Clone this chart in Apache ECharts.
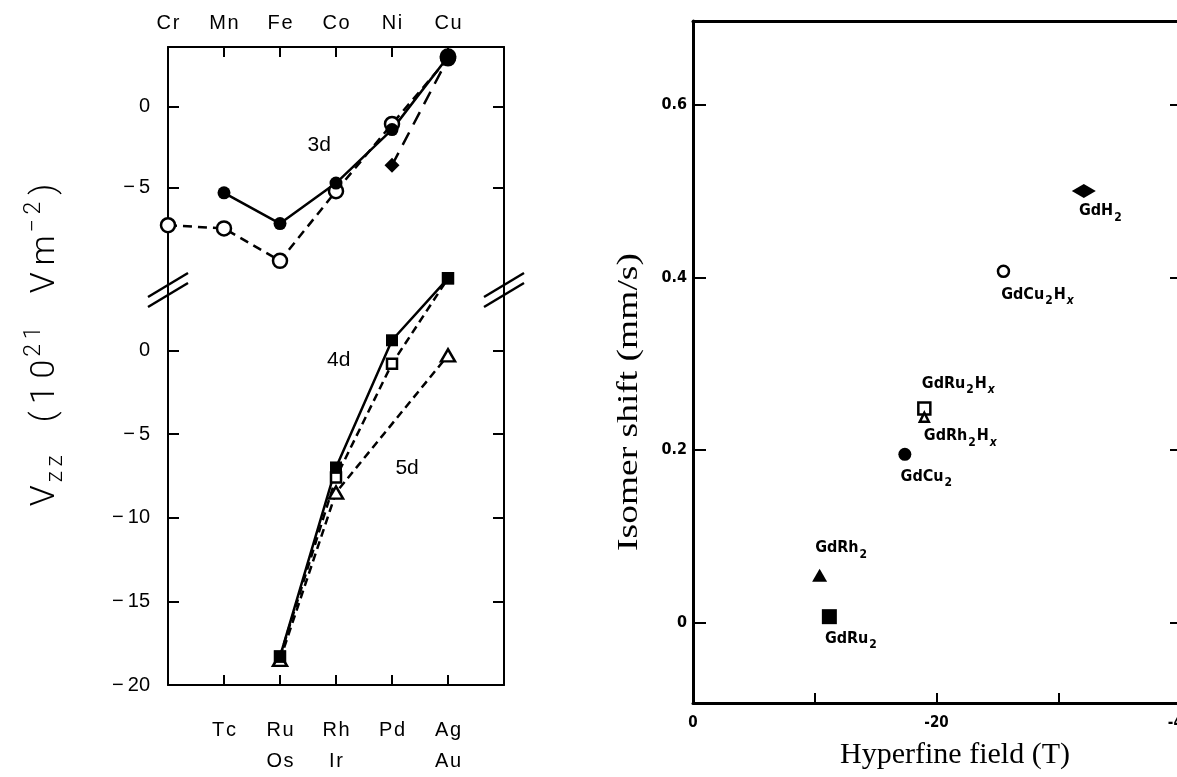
<!DOCTYPE html>
<html>
<head>
<meta charset="utf-8">
<title>Vzz and isomer shift</title>
<script src="https://cdn.jsdelivr.net/npm/echarts@6.0.0/dist/echarts.min.js"></script>
<style>
html,body{margin:0;padding:0;background:#fff;}
#main{width:1177px;height:777px;}
</style>
</head>
<body>
<div id="main"></div>
<script>
// left panel: column 0 = Cr, 5 = Cu (top) / Ag,Au (bottom)
var topNames = ['Cr','Mn','Fe','Co','Ni','Cu'];
var bottomNames = ['', 'Tc', 'Ru\nOs', 'Rh\nIr', 'Pd', 'Ag\nAu'];

// 3d (upper part)
var x3dFull = [1, 2, 3, 4, 5];
var y3dFull = [-5.3, -7.2, -4.7, -1.4, 3.1];
var x3dOpen = [0, 1, 2, 3, 4, 5];
var y3dOpen = [-7.3, -7.5, -9.5, -5.2, -1.05, 3.0];
var x3dDiam = [4, 5];
var y3dDiam = [-3.6, 3.0];

// 4d / 5d (lower part)
var x4dFull = [2, 3, 4, 5];
var y4dFull = [-18.3, -7.0, 0.6, 4.3];
var x4dOpen = [2, 3, 4, 5];
var y4dOpen = [-18.3, -7.6, -0.8, 4.3];
var x5dOpen = [2, 3, 5];
var y5dOpen = [-18.5, -8.5, -0.3];

var upperTicks = [0, -5];
var lowerTicks = [0, -5, -10, -15];
var lowerLabels = [0, -5, -10, -15, -20];

// right panel
var compounds = ['GdH2', 'GdCu2Hx', 'GdRu2Hx', 'GdRh2Hx', 'GdCu2', 'GdRh2', 'GdRu2'];
var hfField  = [-32.1, -25.5, -19.0, -19.0, -17.4, -10.4, -11.2];
var isoShift = [0.50, 0.407, 0.248, 0.238, 0.195, 0.055, 0.007];
var shiftTicks = [0, 0.2, 0.4, 0.6];
var fieldTicks = [0, -10, -20, -30, -40];
var fieldLabels = [0, -20, -40];

// marker look + label offset for each compound
var markStyle = {
  'GdH2':    {symbol: 'diamond',  size: [24, 14], fill: true,  off: [17, 20]},
  'GdCu2Hx': {symbol: 'circle',   size: 11,       fill: false, off: [34, 23]},
  'GdRu2Hx': {symbol: 'rect',     size: 12,       fill: false, off: [34, -25]},
  'GdRh2Hx': {symbol: 'triangle', size: 9,        fill: false, off: [36, 19]},
  'GdCu2':   {symbol: 'circle',   size: 13,       fill: true,  off: [22, 22]},
  'GdRh2':   {symbol: 'triangle', size: [15, 13], fill: true,  off: [22, -27]},
  'GdRu2':   {symbol: 'rect',     size: 15,       fill: true,  off: [22, 22]}
};

var sans = 'Liberation Sans';
var din = 'DejaVu Sans Condensed';

function zip(xs, ys) {
  var out = [];
  for (var i = 0; i < xs.length; i++) out.push([xs[i], ys[i]]);
  return out;
}
function minusLabel(v) {
  return v === 0 ? '0' : '\u2212\u2009' + Math.abs(v);
}
function spaced(s, sep) {
  return s.split('\n').map(function (l) { return l.split('').join(sep || '\u200A'); }).join('\n');
}
function richName(n) {
  return n.replace(/(\d)/g, '{s|$1}').replace(/x$/, '{x|x}');
}

var black = '#000';
var openItem = {color: '#fff', borderColor: black, borderWidth: 2.5, opacity: 1};
var fullItem = {color: black, opacity: 1};

var myChart = echarts.init(document.getElementById('main'));

var upper = zip(x3dFull, y3dFull);
upper[upper.length - 1] = {value: upper[upper.length - 1], symbolSize: 17};
var diam = zip(x3dDiam, y3dDiam);
diam[1] = {value: diam[1], symbol: 'none'};

var scatterSeries = compounds.map(function (name, i) {
  var st = markStyle[name];
  return {
    name: name,
    type: 'scatter',
    xAxisIndex: 2,
    yAxisIndex: 4,
    symbol: st.symbol,
    symbolSize: st.size,
    itemStyle: st.fill ? fullItem : openItem,
    label: {
      show: true,
      position: 'inside',
      offset: st.off,
      formatter: richName(name),
      color: black,
      fontFamily: din,
      fontWeight: 'bold',
      fontSize: 16,
      rich: {
        s: {fontSize: 12, fontFamily: din, fontWeight: 'bold', color: black, padding: [13, 1, 0, 1]},
        x: {fontSize: 12, fontFamily: din, fontStyle: 'italic', fontWeight: 'bold', color: black, padding: [13, 0, 0, 1]}
      }
    },
    data: [[hfField[i], isoShift[i]]]
  };
});

var frameLine = {show: true, onZero: false, lineStyle: {color: black, width: 2}};
var frameLine3 = {show: true, onZero: false, lineStyle: {color: black, width: 3}};

var option = {
  backgroundColor: '#fff',
  animation: false,
  grid: [
    {left: 168, top: 47, width: 336, height: 243, outerBoundsMode: 'none'},
    {left: 168, top: 270, width: 336, height: 415, outerBoundsMode: 'none'},
    {left: 693, top: 21, width: 487, height: 682, outerBoundsMode: 'none'}
  ],
  xAxis: [
    { // top labels Cr..Cu
      type: 'value', gridIndex: 0, position: 'top', min: 0, max: 6,
      axisLine: frameLine,
      axisTick: {inside: true, length: 10, customValues: [1, 2, 3, 4, 5], lineStyle: {width: 2, color: black}},
      axisLabel: {customValues: [0, 1, 2, 3, 4, 5], margin: 14, fontFamily: sans, fontSize: 20, color: black,
        formatter: function (v) { return spaced(topNames[v]); }},
      splitLine: {show: false}
    },
    { // bottom labels Tc..Ag/Au
      type: 'value', gridIndex: 1, position: 'bottom', min: 0, max: 6,
      axisLine: frameLine,
      axisTick: {inside: true, length: 10, customValues: [1, 2, 3, 4, 5], lineStyle: {width: 2, color: black}},
      axisLabel: {customValues: [1, 2, 3, 4, 5], margin: 30, lineHeight: 31, fontFamily: sans, fontSize: 20, color: black,
        formatter: function (v) { return spaced(bottomNames[v]); }},
      splitLine: {show: false}
    },
    { // hyperfine field
      type: 'value', gridIndex: 2, position: 'bottom', min: -40, max: 0, inverse: true,
      axisLine: frameLine3,
      axisTick: {inside: true, length: 10, customValues: fieldTicks, lineStyle: {width: 2, color: black}},
      axisLabel: {customValues: fieldLabels, margin: 13, fontFamily: din, fontWeight: 'bold', fontSize: 15, color: black,
        formatter: function (v) { return v === 0 ? '0' : '-' + Math.abs(v); }},
      splitLine: {show: false}
    },
    {
      type: 'value', gridIndex: 2, position: 'top', min: -40, max: 0, inverse: true,
      axisLine: frameLine3, axisTick: {show: false}, axisLabel: {show: false}, splitLine: {show: false}
    }
  ],
  yAxis: [
    {
      type: 'value', gridIndex: 0, position: 'left', min: -11.3, max: 3.7,
      axisLine: frameLine,
      axisTick: {inside: true, length: 11, customValues: upperTicks, lineStyle: {width: 2, color: black}},
      axisLabel: {customValues: upperTicks, margin: 18, fontFamily: sans, fontSize: 20, color: black, formatter: minusLabel},
      splitLine: {show: false}
    },
    {
      type: 'value', gridIndex: 0, position: 'right', min: -11.3, max: 3.7,
      axisLine: frameLine,
      axisTick: {inside: true, length: 11, customValues: upperTicks, lineStyle: {width: 2, color: black}},
      axisLabel: {show: false}, splitLine: {show: false}
    },
    {
      type: 'value', gridIndex: 1, position: 'left', min: -20, max: 4.8,
      axisLine: frameLine,
      axisTick: {inside: true, length: 11, customValues: lowerTicks, lineStyle: {width: 2, color: black}},
      axisLabel: {customValues: lowerLabels, margin: 18, fontFamily: sans, fontSize: 20, color: black, formatter: minusLabel},
      splitLine: {show: false}
    },
    {
      type: 'value', gridIndex: 1, position: 'right', min: -20, max: 4.8,
      axisLine: frameLine,
      axisTick: {inside: true, length: 11, customValues: lowerTicks, lineStyle: {width: 2, color: black}},
      axisLabel: {show: false}, splitLine: {show: false}
    },
    { // isomer shift
      type: 'value', gridIndex: 2, position: 'left', min: -0.093, max: 0.697,
      axisLine: frameLine3,
      axisTick: {inside: true, length: 13, customValues: shiftTicks, lineStyle: {width: 2, color: black}},
      axisLabel: {customValues: shiftTicks, margin: 6, fontFamily: din, fontWeight: 'bold', fontSize: 16, color: black,
        formatter: function (v) { return v === 0 ? '0' : v.toFixed(1); }},
      splitLine: {show: false}
    },
    {
      type: 'value', gridIndex: 2, position: 'right', min: -0.093, max: 0.697,
      axisLine: frameLine3,
      axisTick: {inside: true, length: 10, customValues: shiftTicks, lineStyle: {width: 2, color: black}},
      axisLabel: {show: false}, splitLine: {show: false}
    }
  ],
  graphic: [
    {
      id: 'vzzTitle', type: 'text', x: 45, y: 345, rotation: Math.PI / 2,
      style: {
        text: 'V{sub|' + spaced('zz', '\u2009') + '}    ' + spaced('(10', '\u2009') + '{sup|' + spaced('21', '\u2009') +
              '}    ' + spaced('Vm', '\u2009') + '{sup|\u2212\u20092}\u2009)',
        fontFamily: 'Roboto', fontWeight: 300, fontSize: 34, fill: black,
        align: 'center', verticalAlign: 'middle',
        rich: {
          sub: {fontFamily: 'Roboto', fontWeight: 300, fontSize: 23, fill: black, padding: [22, 0, 0, 3]},
          sup: {fontFamily: 'Roboto', fontWeight: 300, fontSize: 23, fill: black, padding: [0, 0, 22, 3]}
        }
      }
    },
    {
      id: 'isoTitle', type: 'text', x: 629, y: 402, rotation: Math.PI / 2, scaleX: 1.25,
      style: {text: 'Isomer shift (mm/s)', fontFamily: 'Liberation Serif', fontSize: 30, fill: black,
        align: 'center', verticalAlign: 'middle'}
    },
    {
      id: 'hfTitle', type: 'text', x: 955, y: 755,
      style: {text: 'Hyperfine field (T)', fontFamily: 'Liberation Serif', fontSize: 30, fill: black,
        align: 'center', verticalAlign: 'middle'}
    }
  ],
  series: [
    {
      name: '3d open', type: 'line', xAxisIndex: 0, yAxisIndex: 0,
      symbol: 'circle', symbolSize: 14, itemStyle: openItem,
      lineStyle: {color: black, width: 2.5, type: [9, 6]},
      data: zip(x3dOpen, y3dOpen)
    },
    {
      name: '3d diamond', type: 'line', xAxisIndex: 0, yAxisIndex: 0,
      symbol: 'diamond', symbolSize: [15, 15], itemStyle: fullItem,
      lineStyle: {color: black, width: 2.5, type: [14, 9]},
      data: diam
    },
    {
      name: '3d full', type: 'line', xAxisIndex: 0, yAxisIndex: 0,
      symbol: 'circle', symbolSize: 13, itemStyle: fullItem,
      lineStyle: {color: black, width: 2.5},
      data: upper
    },
    {
      name: '5d open', type: 'line', xAxisIndex: 1, yAxisIndex: 2,
      symbol: 'triangle', symbolSize: [14, 12], itemStyle: openItem,
      lineStyle: {color: black, width: 2.5, type: [8, 5]},
      data: zip(x5dOpen, y5dOpen)
    },
    {
      name: '4d open', type: 'line', xAxisIndex: 1, yAxisIndex: 2,
      symbol: 'rect', symbolSize: 10, itemStyle: openItem,
      lineStyle: {color: black, width: 2.5, type: [8, 5]},
      data: zip(x4dOpen, y4dOpen)
    },
    {
      name: '4d full', type: 'line', xAxisIndex: 1, yAxisIndex: 2,
      symbol: 'rect', symbolSize: 12, itemStyle: fullItem,
      lineStyle: {color: black, width: 2.5},
      data: zip(x4dFull, y4dFull)
    }
  ].concat(scatterSeries)
};

myChart.setOption(option);

// break marks and the 3d/4d/5d notes, placed through the axes
var breakY = myChart.convertToPixel({gridIndex: 0}, [0, -11.3])[1];
var leftX = myChart.convertToPixel({gridIndex: 0}, [0, 0])[0];
var rightX = myChart.convertToPixel({gridIndex: 0}, [6, 0])[0];
var extra = [];
[leftX, rightX].forEach(function (x, k) {
  [-5, 5].forEach(function (d, j) {
    extra.push({
      id: 'brk' + k + j, type: 'line',
      shape: {x1: x - 20, y1: breakY + d + 12, x2: x + 20, y2: breakY + d - 12},
      style: {stroke: black, lineWidth: 2.5}
    });
  });
});
var notes = [
  {text: '3d', grid: 0, at: [2.7, -2.35]},
  {text: '4d', grid: 1, at: [3.05, -0.6]},
  {text: '5d', grid: 1, at: [4.27, -7.05]}
];
notes.forEach(function (n, i) {
  var p = myChart.convertToPixel({gridIndex: n.grid}, n.at);
  extra.push({
    id: 'note' + i, type: 'text', x: p[0], y: p[1],
    style: {text: n.text, fontFamily: sans, fontSize: 21, fill: black, align: 'center', verticalAlign: 'middle'}
  });
});
myChart.setOption({graphic: extra});
</script>
</body>
</html>
